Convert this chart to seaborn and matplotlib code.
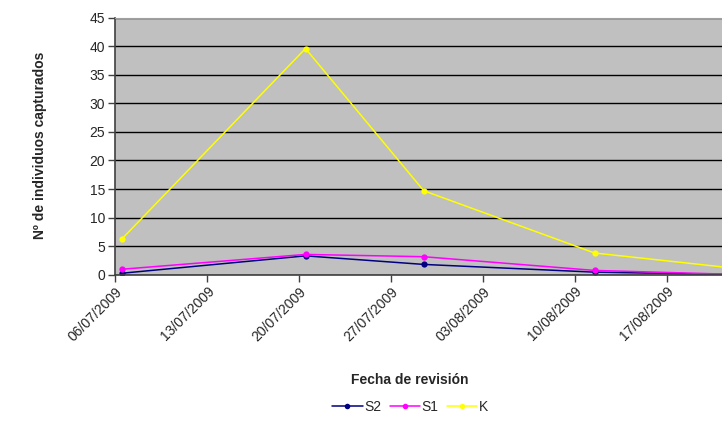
import numpy as np
import pandas as pd
import matplotlib
matplotlib.use("Agg")
import matplotlib.pyplot as plt
import matplotlib.dates as mdates
import seaborn as sns

# fechas de revision (Excel dibuja los puntos a mitad del dia)
fechas = ["2009-07-06", "2009-07-20", "2009-07-29", "2009-08-11", "2009-08-21"]
s2 = [0.25, 3.3, 1.8, 0.45, 0.05]
s1 = [0.95, 3.55, 3.15, 0.75, 0.1]
k = [6.2, 39.6, 14.7, 3.8, 1.3]

series = ["S2", "S1", "K"]
colores = {"S2": "#000080", "S1": "#FF00FF", "K": "#FFFF00"}

df = pd.DataFrame({"fecha": pd.to_datetime(fechas) + pd.Timedelta(hours=12),
                   "S2": s2, "S1": s1, "K": k})
df = df.melt(id_vars="fecha", var_name="serie", value_name="n")

sns.set_style("white")
plt.rcParams["font.family"] = ["Liberation Sans", "DejaVu Sans"]

fig = plt.figure(figsize=(7.22, 4.25), dpi=100)
ax = fig.add_axes([115 / 722, 1 - 274.7 / 425, 607 / 722, 257 / 425])
ax.set_facecolor("#C0C0C0")

sns.lineplot(data=df, x="fecha", y="n", hue="serie", hue_order=series,
             palette=colores, marker="o", markersize=4.5, markeredgewidth=0,
             linewidth=1.1, ax=ax, legend=False, clip_on=True)

x0 = pd.Timestamp("2009-07-06")
ax.set_xlim(x0, x0 + pd.Timedelta(days=46.2))
ax.set_ylim(0, 45)
ax.set_yticks(range(0, 46, 5))
ax.xaxis.set_major_locator(mdates.DayLocator(bymonthday=[6, 13, 20, 27, 3, 10, 17]))
ax.set_xticks(pd.date_range("2009-07-06", periods=7, freq="7D"))
ax.xaxis.set_major_formatter(mdates.DateFormatter("%d/%m/%Y"))

ax.grid(axis="y", color="black", linewidth=1)
ax.set_axisbelow(True)
for side in ["left", "bottom"]:
    ax.spines[side].set_color("#404040")
    ax.spines[side].set_linewidth(1.2)
ax.spines["top"].set_color("#A0A0A0")
ax.spines["right"].set_visible(False)

ax.tick_params(axis="both", direction="out", length=5, width=1, color="#404040",
               labelsize=10, pad=2)
ax.tick_params(axis="both", which="both", bottom=True, left=True)
plt.setp(ax.get_xticklabels(), rotation=45, ha="right", rotation_mode="anchor")

ax.set_xlabel("")
ax.set_ylabel("")
fig.text(40 / 722, 1 - 145 / 425, "Nº de individuos capturados", rotation=90,
         ha="center", va="center", fontsize=10, fontweight="bold")
fig.text(410 / 722, 1 - 380 / 425, "Fecha de revisión", ha="center", va="center",
         fontsize=10, fontweight="bold")

handles = [plt.Line2D([], [], color=colores[s], marker="o", markersize=4,
                      markeredgewidth=0, linewidth=1.1) for s in series]
fig.legend(handles, series, loc="center", bbox_to_anchor=(410 / 722, 1 - 407 / 425),
           ncol=3, frameon=False, fontsize=10, handlelength=2.2,
           handletextpad=0.1, columnspacing=0.6)

fig.savefig("out.png", dpi=100)
